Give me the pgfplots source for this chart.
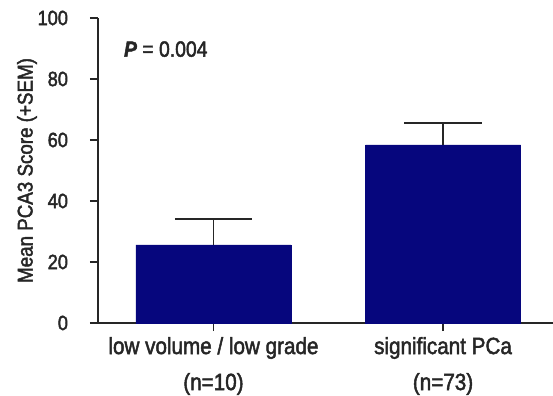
\documentclass[border=0pt]{standalone}
\usepackage{fontspec}
\setmainfont{Liberation Sans}[FakeStretch=0.88, FakeBold=2]
\usepackage{pgfplots}
\pgfplotsset{compat=1.18}
\usetikzlibrary{calc}
\definecolor{barblue}{RGB}{6,6,125}
\definecolor{txt}{RGB}{38,38,38}
\begin{document}
\begin{tikzpicture}
\begin{axis}[
  name=ax,
  scale only axis,
  width=341.25pt, height=228.75pt,
  xmin=-0.503, xmax=1.479,
  ymin=0, ymax=100,
  axis x line*=bottom, axis y line*=left,
  axis line style={line width=1.1pt, draw=txt},
  ytick={0,20,40,60,80,100},
  xtick={0,1},
  xticklabels={{low volume / low grade\\(n=10)},{significant PCa\\(n=73)}},
  x tick label style={align=center, font=\fontsize{17.6}{27}\selectfont, text=txt, yshift=-1pt},
  y tick label style={font=\fontsize{15.5}{17}\selectfont, text=txt, xshift=-13pt},
  /pgf/number format/assume math mode=true,
  tick align=outside,
  major tick length=6pt,
  tick style={line width=1.1pt, draw=txt},
  ylabel={Mean PCA3 Score (+SEM)},
  every axis y label/.style={at={(axis description cs:-0.156,0.5)}, rotate=90, anchor=center, font=\fontsize{16}{17}\selectfont, text=txt},
  clip=false,
]
\addplot[ybar, bar width=0.675, fill=barblue, draw=barblue,
  error bars/.cd, y dir=plus, y explicit,
  error bar style={line width=1pt, draw=txt},
  error mark options={rotate=90, mark size=29pt, line width=1pt, draw=txt}]
  coordinates {(0,25.6) +- (0,8.5) (1,58.4) +- (0,7.2)};
\node[anchor=west, font=\fontsize{16.5}{17}\selectfont, text=txt] at (axis cs:-0.41,89.8) {\textbf{\textit{P}} = 0.004};
\end{axis}
\pgfresetboundingbox
\path[use as bounding box] ($(ax.south west)+(-73.5pt,-54.75pt)$) rectangle ($(ax.north east)+(0,13.5pt)$);
\end{tikzpicture}
\end{document}
